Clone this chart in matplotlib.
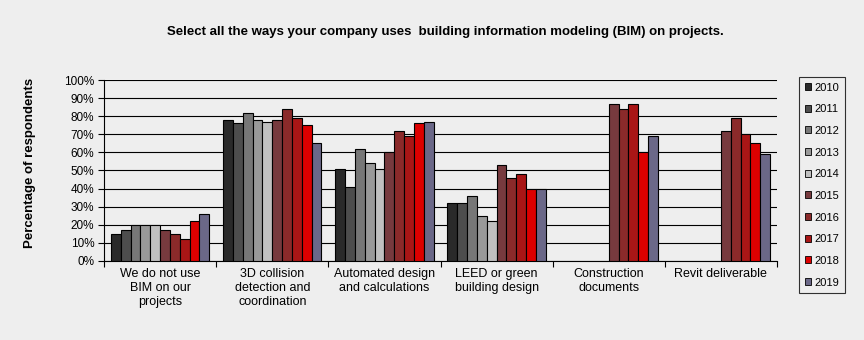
import matplotlib.pyplot as plt
import numpy as np

plt.rcParams['font.family'] = ['Liberation Sans', 'DejaVu Sans']

categories = ['We do not use\nBIM on our\nprojects', '3D collision\ndetection and\ncoordination',
              'Automated design\nand calculations', 'LEED or green\nbuilding design',
              'Construction\ndocuments', 'Revit deliverable']
years = ['2010', '2011', '2012', '2013', '2014', '2015', '2016', '2017', '2018', '2019']
nan = np.nan
# rows = years, columns = categories
values = [
    [15, 78, 51, 32, nan, nan],
    [17, 76, 41, 32, nan, nan],
    [20, 82, 62, 36, nan, nan],
    [20, 78, 54, 25, nan, nan],
    [20, 77, 51, 22, nan, nan],
    [17, 78, 60, 53, 87, 72],
    [15, 84, 72, 46, 84, 79],
    [12, 79, 69, 48, 87, 70],
    [22, 75, 76, 40, 60, 65],
    [26, 65, 77, 40, 69, 59],
]
colors = ['#2a2a2a', '#4d4d4d', '#777777', '#999999', '#c0c0c0',
          '#773a3e', '#8b2a2a', '#a91616', '#dd0000', '#6b6888']

bg = '#eeeeee'
fig = plt.figure(figsize=(8.64, 3.4), dpi=100, facecolor=bg)
ax = fig.add_axes([0.1204, 0.2324, 0.7789, 0.5323], facecolor=bg)

x = np.arange(len(categories))
n = len(years)
w = 0.877 / n
for i in range(n):
    ax.bar(x - 0.877 / 2 + w * (i + 0.5), values[i], width=w, color=colors[i],
           edgecolor='black', linewidth=0.8, label=years[i], zorder=3)

ax.set_xlim(-0.5, len(categories) - 0.5)
ax.set_ylim(0, 100)
ax.set_yticks(np.arange(0, 101, 10))
ax.set_yticklabels([f'{v}%' for v in range(0, 101, 10)], fontsize=8.5)
ax.yaxis.grid(True, color='black', linewidth=0.8, zorder=0)
ax.set_xticks(np.arange(-0.5, len(categories), 1.0))
ax.set_xticklabels([])
ax.set_xticks(x, minor=True)
ax.set_xticklabels(categories, minor=True, fontsize=9, linespacing=1.2)
ax.tick_params(axis='x', which='minor', length=0, pad=5)
ax.tick_params(axis='x', which='major', length=4, width=0.8)
ax.tick_params(axis='y', length=4, width=0.8, pad=3)
for s in ['top', 'right']:
    ax.spines[s].set_visible(False)
ax.spines['left'].set_linewidth(0.8)
ax.spines['bottom'].set_linewidth(0.8)

ax.set_ylabel('Percentage of respondents', fontsize=9.5, fontweight='bold', va='center')
ax.yaxis.set_label_coords(-0.11, 0.54)
fig.text(0.515, 0.905, 'Select all the ways your company uses  building information modeling (BIM) on projects.',
         ha='center', va='center', fontsize=9.5, fontweight='bold')

leg = fig.legend(loc='upper left', bbox_to_anchor=(799 / 864, 1 - 77 / 340), fontsize=8,
                 handlelength=0.6, handleheight=0.6, handletextpad=0.3, labelspacing=1.05,
                 borderpad=0.5, borderaxespad=0, frameon=True, fancybox=False)
leg.get_frame().set_edgecolor('black')
leg.get_frame().set_facecolor(bg)
leg.get_frame().set_linewidth(0.8)
for h in leg.legend_handles:
    h.set_linewidth(0.6)

fig.savefig('out.png', dpi=100, facecolor=bg)
